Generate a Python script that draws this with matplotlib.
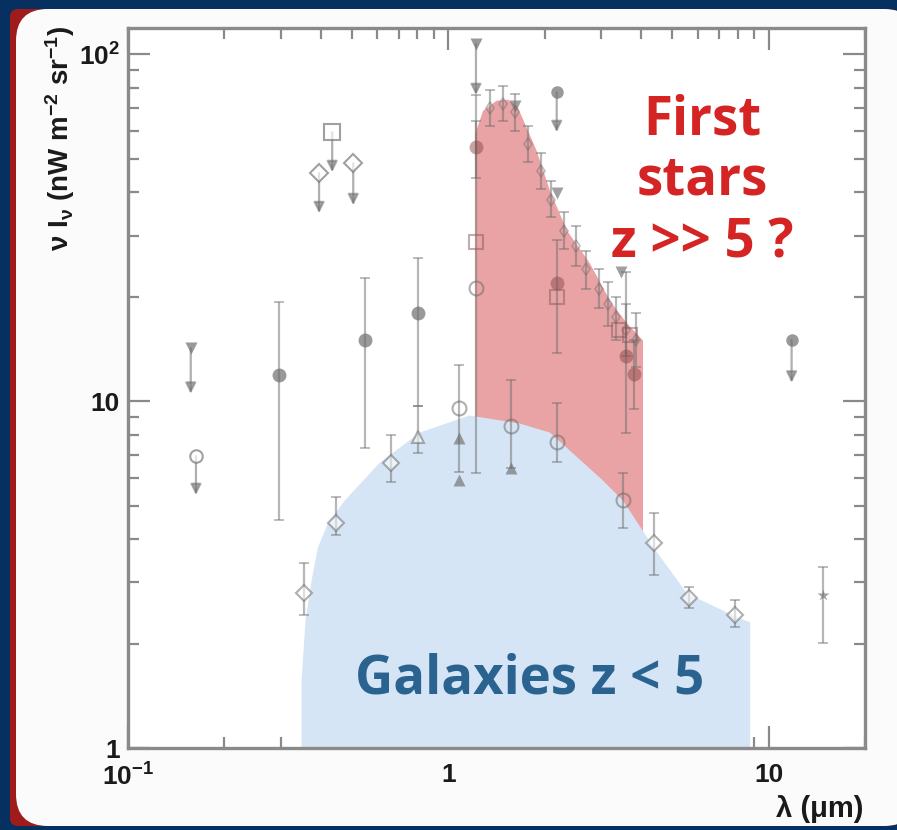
import numpy as np
import matplotlib
matplotlib.use('Agg')
import matplotlib.pyplot as plt
from matplotlib.patches import FancyBboxPatch
from matplotlib.ticker import FixedLocator, FixedFormatter, LogLocator, NullFormatter

plt.rcParams['mathtext.fontset'] = 'custom'
plt.rcParams['mathtext.rm'] = 'Liberation Sans:bold'
plt.rcParams['mathtext.bf'] = 'Liberation Sans:bold'
plt.rcParams['mathtext.it'] = 'Liberation Sans:bold'
plt.rcParams['mathtext.sf'] = 'Liberation Sans:bold'

# ---------------- data ----------------
# galaxies z<5 envelope (blue)
gal_x = [0.347, 0.357, 0.373, 0.390, 0.419, 0.473, 0.609, 0.812, 1.16, 1.67,
         2.07, 3.03, 3.50, 4.40, 5.54, 7.94, 8.73]
gal_y = [1.57, 2.34, 3.05, 3.79, 4.45, 5.18, 6.67, 8.14, 9.12, 8.64,
         8.14, 5.92, 5.18, 3.75, 2.80, 2.39, 2.31]

# first stars excess (red) upper envelope
red_x = [1.21, 1.28, 1.41, 1.53, 1.64, 1.75, 1.88, 2.07, 2.34, 2.76, 3.19, 3.60, 4.04]
red_y = [59.2, 69.0, 73.7, 74.2, 70.8, 61.6, 52.9, 40.5, 31.1, 25.0, 19.5, 16.8, 15.0]

# filled circles with error bars
fc_x = [0.296, 0.551, 0.806]
fc_y = [11.9, 15.0, 17.9]
fc_lo = [4.54, 7.32, 9.7]
fc_hi = [19.3, 22.6, 25.8]

# open diamonds with error bars
od_x = [0.355, 0.447, 0.664, 4.40, 5.66, 7.83]
od_y = [2.80, 4.45, 6.63, 3.90, 2.71, 2.42]
od_lo = [2.42, 4.11, 5.84, 3.15, 2.53, 2.23]
od_hi = [3.41, 5.29, 7.98, 4.76, 2.91, 2.67]

# open circles with error bars
oc_x = [1.08, 1.22, 1.57, 2.18, 3.50]
oc_y = [9.55, 21.2, 8.5, 7.62, 5.18]
oc_lo = [6.24, 6.2, 6.41, 6.67, 4.30]
oc_hi = [12.7, 76.2, 11.5, 9.86, 6.20]

# open triangles with error bars
ot_x = [0.806]
ot_y = [7.87]
ot_lo = [7.08]
ot_hi = [9.7]

# filled triangles
ft_x = [1.08, 1.08, 1.57]
ft_y = [7.82, 5.92, 6.41]

# upper limits (marker value -> arrow tip)
ul_x = [0.157, 0.163, 0.434, 0.395, 0.505, 1.22, 2.18, 11.8]
ul_y = [14.2, 6.94, 59.6, 45.4, 48.5, 107.0, 77.7, 15.0]
ul_to = [10.5, 5.36, 45.7, 34.8, 36.7, 76.2, 59.6, 11.3]
ul_mk = ['v', 'o', 's', 'D', 'D', 'v', 'o', 'o']
ul_filled = [True, False, False, False, False, True, True, True]

# near-IR measurements inside the red excess
nf_x = [1.22, 2.18, 3.60, 3.80]
nf_y = [54.0, 21.9, 13.5, 12.0]
nf_lo = [44.0, 13.8, 8.09, 9.5]
nf_hi = [64.0, 29.1, 23.5, 15.0]
ns_x = [1.22, 2.18, 3.40, 3.70]
ns_y = [28.7, 19.9, 16.0, 15.5]

# small measurements along the red envelope
ed_x = [1.35, 1.48, 1.62, 1.78, 1.95, 2.10, 2.30, 2.50, 2.70, 2.95, 3.15, 3.35, 3.60, 3.85]
ed_y = [70.0, 72.0, 68.0, 55.0, 46.0, 38.0, 31.0, 28.0, 24.0, 21.0, 19.0, 17.5, 16.0, 15.0]
ed_lo = [62.0, 64.0, 60.0, 49.0, 41.0, 34.0, 27.5, 24.5, 21.0, 18.5, 16.5, 15.0, 13.5, 12.5]
ed_hi = [79.0, 81.0, 77.0, 62.0, 52.0, 43.0, 35.0, 32.0, 27.0, 24.0, 22.0, 20.0, 19.0, 18.0]

# down triangles along the red envelope
dt_x = [1.62, 2.18, 3.45]
dt_y = [71.0, 39.8, 23.5]

# mid-IR point
mi_x = [14.8]
mi_y = [2.76]
mi_lo = [2.01]
mi_hi = [3.32]

x_ticks = [0.1, 1, 10]
x_labels = [r'10$^{-1}$', '1', '10']
y_ticks = [1, 10, 100]
y_labels = ['1', '10', r'10$^{2}$']

# ---------------- figure ----------------
W, H = 897, 830
fig = plt.figure(figsize=(W / 100, H / 100), dpi=100)
fig.patch.set_facecolor('#06305f')

bg = fig.add_axes([0, 0, 1, 1], zorder=-10)
bg.set_xlim(0, W)
bg.set_ylim(H, 0)
bg.axis('off')
bg.add_patch(FancyBboxPatch((10, 9), 887, 817, boxstyle='round,pad=0,rounding_size=8',
                            fc='#a01c1c', ec='none'))
bg.add_patch(FancyBboxPatch((16, 9), 900, 817, boxstyle='round,pad=0,rounding_size=32',
                            fc='#fbfbfb', ec='none'))

ax = fig.add_axes([128 / W, 1 - 748 / H, (865 - 128) / W, (748 - 28) / H])
ax.set_facecolor('white')
ax.set_xscale('log')
ax.set_yscale('log')
ax.set_xlim(0.1, 20)
ax.set_ylim(1, 119)

# fills
ax.fill_between(red_x, 1, red_y, color='#e9a3a5', lw=0, zorder=1)
ax.fill_between(gal_x, 1, gal_y, color='#d6e5f5', lw=0, zorder=2)

gc = '#6e6e6e'
al = 0.5
ekw = dict(fmt='none', ecolor=gc, elinewidth=1.6, capsize=3.5, capthick=1.3, alpha=al, zorder=4)


def bars(x, y, lo, hi):
    y = np.asarray(y, float)
    ax.errorbar(x, y, yerr=[y - np.asarray(lo), np.asarray(hi) - y], **ekw)


bars(fc_x, fc_y, fc_lo, fc_hi)
ax.plot(fc_x, fc_y, 'o', ms=10, color=gc, alpha=0.7, mec='none', zorder=5)

bars(od_x, od_y, od_lo, od_hi)
ax.plot(od_x, od_y, 'D', ms=8, mfc='white', mec=gc, mew=1.5, alpha=0.55, zorder=5)

bars(oc_x, oc_y, oc_lo, oc_hi)
ax.plot(oc_x, oc_y, 'o', ms=10, mfc='none', mec=gc, mew=1.5, alpha=0.55, zorder=5)

bars(ot_x, ot_y, ot_lo, ot_hi)
ax.plot(ot_x, ot_y, '^', ms=9, mfc='white', mec=gc, mew=1.5, alpha=0.55, zorder=5)

ax.plot(ft_x, ft_y, '^', ms=9, color=gc, mec='none', alpha=0.65, zorder=5)

for x, y, t, m, f in zip(ul_x, ul_y, ul_to, ul_mk, ul_filled):
    ax.annotate('', xy=(x, t), xytext=(x, y),
                arrowprops=dict(arrowstyle='-|>', color=gc, lw=1.6, alpha=0.55,
                                mutation_scale=16, shrinkA=0, shrinkB=0), zorder=4)
    ms = 11 if m == 's' else 9
    if f:
        ax.plot([x], [y], m, ms=ms, color=gc, mec='none', alpha=0.7, zorder=5)
    else:
        ax.plot([x], [y], m, ms=ms, mfc='white', mec=gc, mew=1.5, alpha=0.65, zorder=5)

bars(ed_x, ed_y, ed_lo, ed_hi)
ax.plot(ed_x, ed_y, 'd', ms=6, mfc='none', mec=gc, mew=1.2, alpha=0.45, zorder=5)

bars(nf_x, nf_y, nf_lo, nf_hi)
ax.plot(nf_x, nf_y, 'o', ms=10, color='#8a4a4a', mec='none', alpha=0.5, zorder=5)
ax.plot(ns_x, ns_y, 's', ms=10, mfc='none', mec='#8a5a5a', mew=1.5, alpha=0.5, zorder=5)
ax.plot(dt_x, dt_y, 'v', ms=8, color=gc, mec='none', alpha=0.65, zorder=5)

bars(mi_x, mi_y, mi_lo, mi_hi)
ax.plot(mi_x, mi_y, '*', ms=9, color=gc, mec='none', alpha=0.65, zorder=5)

# axes styling
for s in ax.spines.values():
    s.set_color('#8a8a8a')
    s.set_linewidth(2.4)
ax.xaxis.set_major_locator(FixedLocator(x_ticks))
ax.xaxis.set_major_formatter(FixedFormatter(x_labels))
ax.yaxis.set_major_locator(FixedLocator(y_ticks))
ax.yaxis.set_major_formatter(FixedFormatter(y_labels))
ax.xaxis.set_minor_locator(LogLocator(base=10, subs=np.arange(2, 10)))
ax.yaxis.set_minor_locator(LogLocator(base=10, subs=np.arange(2, 10)))
ax.xaxis.set_minor_formatter(NullFormatter())
ax.yaxis.set_minor_formatter(NullFormatter())
ax.tick_params(which='both', direction='in', top=True, right=True, color='#8a8a8a', width=1.6)
ax.tick_params(which='major', length=16)
ax.tick_params(which='minor', length=8)
ax.tick_params(axis='x', which='major', pad=11)
ax.tick_params(axis='y', which='major', pad=6)
for lab in ax.get_xticklabels() + ax.get_yticklabels():
    lab.set_fontfamily('Liberation Sans')
    lab.set_fontweight('bold')
    lab.set_fontsize(19)
    lab.set_color('#1a1a1a')

fig.text(60 / W, 1 - 26 / H, r'$\nu$ I$_\nu$ (nW m$^{-2}$ sr$^{-1}$)', rotation=90,
         ha='center', va='top', fontsize=20, fontfamily='Liberation Sans',
         fontweight='bold', color='#1a1a1a')
fig.text(863 / W, 1 - 809 / H, 'λ (μm)', ha='right', va='center', fontsize=21,
         fontfamily='Liberation Sans', fontweight='bold', color='#1a1a1a')

# annotations
tkw = dict(transform=ax.transAxes, ha='center', va='baseline', fontfamily='Open Sans',
           fontweight='bold', fontsize=38, zorder=10)
ax.text((702 - 128) / 737, (748 - 134) / 720, 'First', color='#d42424', **tkw)
ax.text((702 - 128) / 737, (748 - 194) / 720, 'stars', color='#d42424', **tkw)
ax.text((702 - 128) / 737, (748 - 257) / 720, 'z >> 5 ?', color='#d42424', **tkw)
ax.text((530 - 128) / 737, (748 - 693) / 720, 'Galaxies z < 5', color='#2a6290', **tkw)

fig.savefig('out.png', dpi=100, facecolor=fig.get_facecolor())
